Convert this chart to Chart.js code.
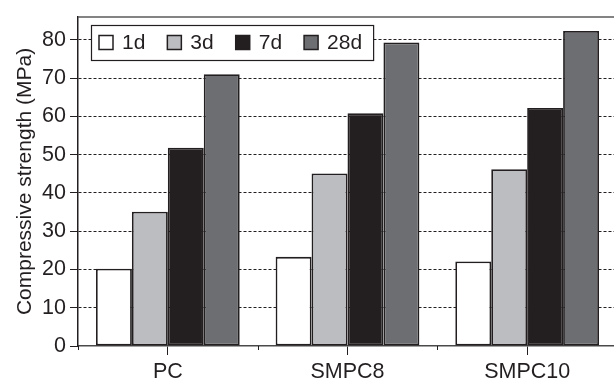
<!DOCTYPE html>
<html>
<head>
<meta charset="utf-8">
<script src="https://cdn.jsdelivr.net/npm/chart.js@4.4.1/dist/chart.umd.min.js"></script>
<style>
  html, body { margin: 0; padding: 0; background: #fff; overflow: hidden; }
  #wrap { width: 618px; height: 380px; }
</style>
</head>
<body>
<div id="wrap"><canvas id="c" width="618" height="380"></canvas></div>
<script>
// Mixes and curing ages
const categories = ['PC', 'SMPC8', 'SMPC10'];
const ages = ['1d', '3d', '7d', '28d'];

// Compressive strength (MPa) per age, one value per mix
const strength1d  = [20.2, 23.3, 22.1];
const strength3d  = [35.1, 45.1, 46.2];
const strength7d  = [51.8, 60.8, 62.2];
const strength28d = [71.0, 79.3, 82.3];

const yTicks = [0, 10, 20, 30, 40, 50, 60, 70, 80];

const ink = '#231f20';
const fills = ['#ffffff', '#bcbdc0', '#231f20', '#6d6e71'];
const series = [strength1d, strength3d, strength7d, strength28d];
const FONT = '"Liberation Sans", Arial, Helvetica, sans-serif';

// Framed legend drawn inside the plot, plus the top frame line and minor x ticks
const decorations = {
  id: 'decorations',
  afterDraw(chart) {
    const { ctx, chartArea } = chart;
    const x = chart.scales.x;
    ctx.save();
    // top frame line
    ctx.strokeStyle = '#5a5a5a';
    ctx.lineWidth = 1.5;
    ctx.beginPath();
    ctx.moveTo(chartArea.left, chartArea.top);
    ctx.lineTo(chartArea.right, chartArea.top);
    ctx.stroke();

    // short ticks between categories
    ctx.strokeStyle = ink;
    ctx.lineWidth = 1;
    const half = (x.getPixelForValue(1) - x.getPixelForValue(0)) / 2;
    for (let i = 0; i <= categories.length; i++) {
      const px = Math.round(x.getPixelForValue(0) - half + i * 2 * half) + 0.5;
      ctx.beginPath();
      ctx.moveTo(px, chartArea.bottom);
      ctx.lineTo(px, chartArea.bottom + 4);
      ctx.stroke();
    }

    // legend
    ctx.font = '21px ' + FONT;
    const box = 14, gapText = 9, gapItem = 22, padL = 8, padR = 11;
    const lx = chartArea.left + 13, ly = 25, lh = 35;
    let w = padL;
    chart.data.datasets.forEach((ds, i) => {
      w += box + gapText + ctx.measureText(ds.label).width + (i < chart.data.datasets.length - 1 ? gapItem : 0);
    });
    w += padR;
    ctx.fillStyle = '#fff';
    ctx.fillRect(lx, ly, w, lh);
    ctx.strokeStyle = ink;
    ctx.lineWidth = 1.2;
    ctx.strokeRect(lx + 0.5, ly + 0.5, w, lh);
    let cx = lx + padL;
    const cy = ly + lh / 2;
    ctx.textBaseline = 'middle';
    chart.data.datasets.forEach((ds) => {
      ctx.fillStyle = ds.backgroundColor;
      ctx.fillRect(cx, cy - box / 2, box, box);
      ctx.lineWidth = 1.5;
      ctx.strokeStyle = ink;
      ctx.strokeRect(cx, cy - box / 2, box, box);
      ctx.fillStyle = ink;
      ctx.fillText(ds.label, cx + box + gapText, cy + 1);
      cx += box + gapText + ctx.measureText(ds.label).width + gapItem;
    });
    ctx.restore();
  }
};

new Chart(document.getElementById('c'), {
  type: 'bar',
  data: {
    labels: categories,
    datasets: ages.map((a, i) => ({
      label: a,
      data: series[i],
      backgroundColor: fills[i],
      borderColor: ink,
      borderWidth: 1.8,
      borderSkipped: false,
      barPercentage: 1.0,
      categoryPercentage: 0.8
    }))
  },
  options: {
    responsive: false,
    animation: false,
    layout: { padding: { top: 12, right: 1, left: 0, bottom: 0 } },
    plugins: { legend: { display: false }, tooltip: { enabled: false } },
    scales: {
      x: {
        afterFit(s) { s.height = 34; },
        grid: {
          offset: false,
          drawOnChartArea: false,
          drawTicks: true,
          tickLength: 9,
          tickColor: ink,
          tickWidth: 1
        },
        border: { display: true, color: '#4a4a4a', width: 1.5 },
        ticks: { color: ink, font: { family: FONT, size: 21.5 }, padding: 4 }
      },
      y: {
        min: 0,
        max: 86,
        afterFit(s) { s.width = 78; },
        afterBuildTicks(s) { s.ticks = yTicks.map(v => ({ value: v })); },
        grid: {
          color: (c) => (c.tick && c.tick.value === 0 ? 'rgba(0,0,0,0)' : ink),
          lineWidth: 1,
          tickLength: 8,
          tickColor: ink,
          tickWidth: 1
        },
        border: { display: true, color: ink, width: 1.5, dash: [3, 2] },
        ticks: { color: ink, font: { family: FONT, size: 21.5 }, padding: 4 },
        title: {
          display: true,
          text: 'Compressive strength (MPa)',
          color: ink,
          font: { family: FONT, size: 21 },
          padding: { top: 13, bottom: 0 }
        }
      }
    }
  },
  plugins: [decorations]
});
</script>
</body>
</html>
